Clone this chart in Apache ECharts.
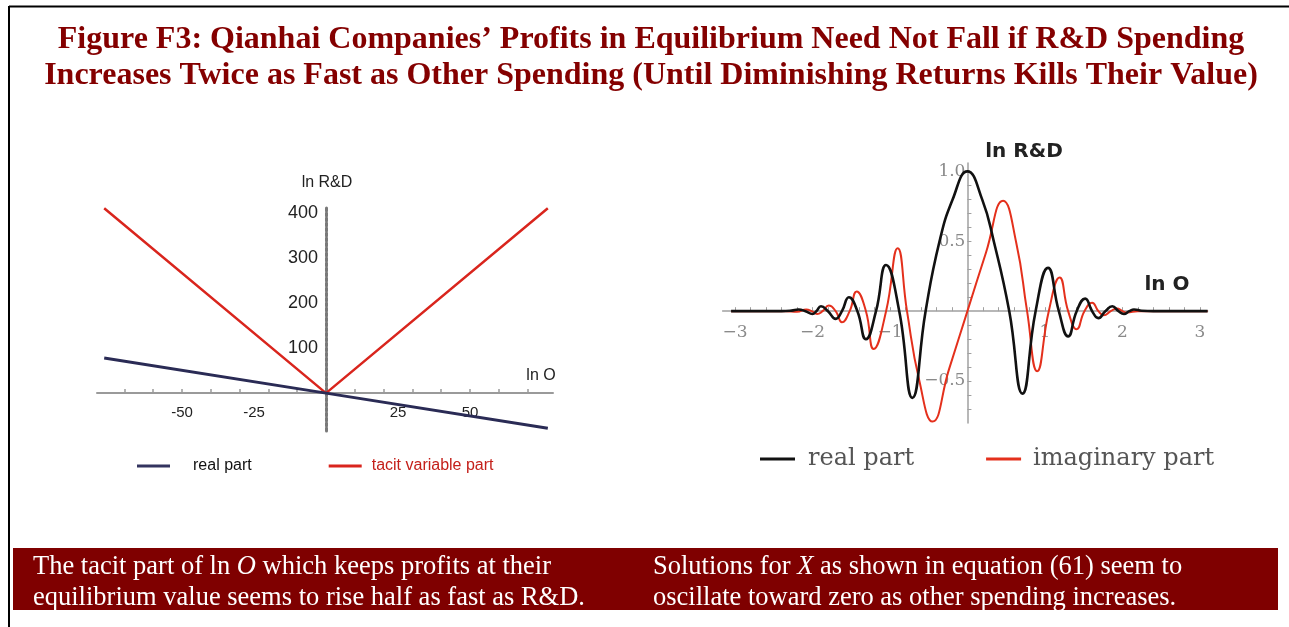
<!DOCTYPE html>
<html>
<head>
<meta charset="utf-8">
<script src="https://cdn.jsdelivr.net/npm/echarts@6/dist/echarts.min.js"></script>
<style>
  html, body { margin: 0; padding: 0; background: #fff; }
  #chart { width: 1289px; height: 627px; }
</style>
</head>
<body>
<div id="chart"></div>
<script>
// ---- Left panel: ln R&D against ln O ----
const lnO       = [-77, 0, 77];
const realPart  = [78, 0, -78];
const tacitPart = [410, 0, 410];
const leftXLabels = [-50, -25, 25, 50];
const leftYLabels = [100, 200, 300, 400];

// ---- Right panel: solutions for X (real and imaginary parts) ----
const realX = [-3.05, -2.4, -2.27, -2.18, -2.09, -2.0, -1.95, -1.89, -1.8, -1.7, -1.62, -1.53, -1.42, -1.31,
  -1.18, -1.05, -0.88, -0.71, -0.54, -0.36, -0.19, 0, 0.19, 0.34, 0.54, 0.71, 0.88, 1.04, 1.18, 1.3,
  1.41, 1.52, 1.61, 1.69, 1.78, 1.87, 1.95, 2.02, 2.09, 2.15, 2.25, 2.4, 3.1];
const realY = [0, 0, 0.004, 0.012, 0, -0.02, 0, 0.035, 0, -0.055, 0, 0.1, 0, -0.2,
  0, 0.33, 0, -0.62, 0, 0.5, 0.8, 1.0, 0.8, 0.5, 0, -0.59, 0, 0.31, 0, -0.18,
  0, 0.09, 0, -0.05, 0, 0.035, 0, -0.02, 0, 0.012, 0.003, 0, 0];
const imagX = [-3.05, -2.35, -2.2, -2.08, -2.01, -1.94, -1.87, -1.79, -1.7, -1.62, -1.52, -1.43, -1.31,
  -1.21, -1.05, -0.9, -0.78, -0.62, -0.45, -0.24, 0, 0.24, 0.46, 0.63, 0.77, 0.9, 1.05, 1.19, 1.3,
  1.41, 1.51, 1.61, 1.69, 1.76, 1.85, 1.93, 2.0, 2.06, 2.2, 3.1];
const imagY = [0, 0, -0.004, 0.012, 0, -0.02, 0, 0.04, 0, -0.08, 0, 0.14, 0,
  -0.27, 0, 0.45, 0, -0.5, -0.79, -0.42, 0, 0.42, 0.79, 0.49, 0, -0.43, 0, 0.24, 0,
  -0.13, 0, 0.06, 0, -0.03, 0, 0.02, 0, -0.01, 0, 0];
const rightXLabels = [-3, -2, -1, 1, 2, 3];
const rightYLabels = [-0.5, 0.5, 1.0];

const zip = (xs, ys) => xs.map((x, i) => [x, ys[i]]);
const steps = (from, to, step) => {
  const out = [];
  for (let v = from; v <= to + 1e-9; v += step) {
    const r = Math.round(v * 1000) / 1000;
    if (r !== 0) out.push(r);
  }
  return out;
};
const minus = v => String(v).replace('-', '\u2212');

// Panel frames and ranges; the axes are shifted so they cross at the origin
const L = { left: 97, top: 206, width: 456, height: 225, xMin: -79.5, xMax: 78.8, yMin: -84, yMax: 415 };
const R = { left: 722.6, top: 163, width: 485, height: 260, xMin: -3.16, xMax: 3.1, yMin: -0.8, yMax: 1.06 };
const yAxisShift = g => -g.width * (0 - g.xMin) / (g.xMax - g.xMin);
const xAxisShift = g => -g.height * (0 - g.yMin) / (g.yMax - g.yMin);

const SANS = "'Liberation Sans', Arial, sans-serif";
const SERIF = "'Liberation Serif', 'Times New Roman', serif";
const MSERIF = "'DejaVu Serif', serif";

const chart = echarts.init(document.getElementById('chart'), null, { renderer: 'canvas' });

chart.setOption({
  animation: false,
  backgroundColor: '#ffffff',
  grid: [
    { left: L.left, top: L.top, width: L.width, height: L.height },
    { left: R.left, top: R.top, width: R.width, height: R.height }
  ],
  xAxis: [
    {
      gridIndex: 0, type: 'value', min: L.xMin, max: L.xMax, position: 'bottom',
      offset: xAxisShift(L),
      splitLine: { show: false },
      axisLine: { onZero: false, lineStyle: { color: '#9a9a9a', width: 2 } },
      axisTick: { show: true, inside: true, length: 4, customValues: steps(-70, 70, 10),
        lineStyle: { color: '#9a9a9a', width: 1.5 } },
      axisLabel: { customValues: leftXLabels, margin: 12, color: '#222',
        fontFamily: SANS, fontSize: 15 }
    },
    {
      gridIndex: 1, type: 'value', min: R.xMin, max: R.xMax, position: 'bottom',
      offset: xAxisShift(R),
      splitLine: { show: false },
      axisLine: { onZero: false, lineStyle: { color: '#a0a0a0', width: 1.5 } },
      axisTick: { show: true, inside: true, length: 4, customValues: steps(-3, 3, 0.2),
        lineStyle: { color: '#a0a0a0', width: 1 } },
      axisLabel: { customValues: rightXLabels, margin: 13, color: '#8a8a8a',
        fontFamily: MSERIF, fontSize: 17, formatter: v => minus(v) }
    }
  ],
  yAxis: [
    {
      gridIndex: 0, type: 'value', min: L.yMin, max: L.yMax, position: 'left',
      offset: yAxisShift(L),
      splitLine: { show: false },
      axisLine: { onZero: false, lineStyle: { color: '#7a7a7a', width: 3, type: [3, 2] } },
      axisTick: { show: false },
      axisLabel: { customValues: leftYLabels, margin: 8, color: '#222',
        fontFamily: SANS, fontSize: 18 }
    },
    {
      gridIndex: 1, type: 'value', min: R.yMin, max: R.yMax, position: 'left',
      offset: yAxisShift(R),
      splitLine: { show: false },
      axisLine: { onZero: false, lineStyle: { color: '#a0a0a0', width: 1.5 } },
      axisTick: { show: true, inside: true, length: 4, customValues: steps(-0.7, 1.0, 0.1),
        lineStyle: { color: '#a0a0a0', width: 1 } },
      axisLabel: { customValues: rightYLabels, margin: 2, color: '#8a8a8a',
        fontFamily: MSERIF, fontSize: 17, formatter: v => minus(v.toFixed(1)) }
    }
  ],
  legend: [
    {
      left: 137, top: 458, padding: 0, orient: 'horizontal', itemGap: 77,
      itemWidth: 33, itemHeight: 3, icon: 'rect', selectedMode: false,
      textStyle: { fontFamily: SANS, fontSize: 16 },
      data: [
        { name: 'real part', itemStyle: { color: '#33345f' },
          textStyle: { color: '#111', padding: [0, 0, 0, 18] } },
        { name: 'tacit variable part', itemStyle: { color: '#d9251d' },
          textStyle: { color: '#c4201a', padding: [0, 0, 0, 5] } }
      ]
    },
    {
      left: 760, top: 447, padding: 0, orient: 'horizontal', itemGap: 72,
      itemWidth: 35, itemHeight: 3, icon: 'rect', selectedMode: false,
      textStyle: { fontFamily: MSERIF, fontSize: 24, color: '#555' },
      data: [
        { name: 'real part', itemStyle: { color: '#111' },
          textStyle: { padding: [0, 0, 0, 8] } },
        { name: 'imaginary part', itemStyle: { color: '#e4301c' },
          textStyle: { padding: [0, 0, 0, 7] } }
      ]
    }
  ],
  series: [
    {
      name: 'tacit variable part', type: 'line', xAxisIndex: 0, yAxisIndex: 0,
      data: zip(lnO, tacitPart), showSymbol: false, symbol: 'none',
      lineStyle: { color: '#d9251d', width: 2.5 }, itemStyle: { color: '#d9251d' }, z: 3
    },
    {
      name: 'real part', type: 'line', xAxisIndex: 0, yAxisIndex: 0,
      data: zip(lnO, realPart), showSymbol: false, symbol: 'none',
      lineStyle: { color: '#2a2b55', width: 3 }, itemStyle: { color: '#2a2b55' }, z: 3
    },
    {
      name: 'imaginary part', type: 'line', xAxisIndex: 1, yAxisIndex: 1,
      data: zip(imagX, imagY), showSymbol: false, symbol: 'none', smooth: 0.5,
      lineStyle: { color: '#e4301c', width: 2 }, itemStyle: { color: '#e4301c' }, z: 3
    },
    {
      name: 'real part', type: 'line', xAxisIndex: 1, yAxisIndex: 1,
      data: zip(realX, realY), showSymbol: false, symbol: 'none', smooth: 0.5,
      lineStyle: { color: '#111', width: 2.6 }, itemStyle: { color: '#111' }, z: 4
    }
  ],
  graphic: [
    // page frame (top and left rules)
    { type: 'line', shape: { x1: 9, y1: 6.5, x2: 1289, y2: 6.5 }, style: { stroke: '#000', lineWidth: 2 } },
    { type: 'line', shape: { x1: 9, y1: 6, x2: 9, y2: 627 }, style: { stroke: '#000', lineWidth: 2 } },
    // figure title
    {
      type: 'text', x: 651, y: 58,
      style: {
        text: 'Figure F3: Qianhai Companies\u2019 Profits in Equilibrium Need Not Fall if R&D Spending\nIncreases Twice as Fast as Other Spending (Until Diminishing Returns Kills Their Value)',
        fill: '#840000', fontFamily: SERIF, fontWeight: 'bold', fontSize: 32,
        lineHeight: 36, align: 'center', verticalAlign: 'middle'
      }
    },
    // axis names, left panel
    { type: 'text', x: 327, y: 183, style: { text: 'ln R&D', fill: '#222', fontFamily: SANS, fontSize: 16, align: 'center', verticalAlign: 'middle' } },
    { type: 'text', x: 541, y: 376, style: { text: 'ln O', fill: '#222', fontFamily: SANS, fontSize: 16, align: 'center', verticalAlign: 'middle' } },
    // axis names, right panel
    { type: 'text', x: 1024, y: 152, style: { text: 'ln R&D', fill: '#222', fontFamily: "'DejaVu Sans', sans-serif", fontWeight: 'bold', fontSize: 20, align: 'center', verticalAlign: 'middle' } },
    { type: 'text', x: 1167, y: 285, style: { text: 'ln O', fill: '#222', fontFamily: "'DejaVu Sans', sans-serif", fontWeight: 'bold', fontSize: 20, align: 'center', verticalAlign: 'middle' } },
    // caption band
    { type: 'rect', shape: { x: 13, y: 548, width: 1265, height: 62 }, style: { fill: '#7f0000' } },
    {
      type: 'text', x: 33, y: 583,
      style: {
        text: '{n|The tacit part of ln }{i|O}{n| which keeps profits at their}\n{n|equilibrium value seems to rise half as fast as R&D.}',
        verticalAlign: 'middle', align: 'left',
        rich: {
          n: { fill: '#fff', fontFamily: SERIF, fontSize: 26.5, lineHeight: 31 },
          i: { fill: '#fff', fontFamily: SERIF, fontSize: 26.5, fontStyle: 'italic', lineHeight: 31 }
        }
      }
    },
    {
      type: 'text', x: 653, y: 583,
      style: {
        text: '{n|Solutions for }{i|X}{n| as shown in equation (61) seem to}\n{n|oscillate toward zero as other spending increases.}',
        verticalAlign: 'middle', align: 'left',
        rich: {
          n: { fill: '#fff', fontFamily: SERIF, fontSize: 26.5, lineHeight: 31 },
          i: { fill: '#fff', fontFamily: SERIF, fontSize: 26.5, fontStyle: 'italic', lineHeight: 31 }
        }
      }
    }
  ]
});
</script>
</body>
</html>
